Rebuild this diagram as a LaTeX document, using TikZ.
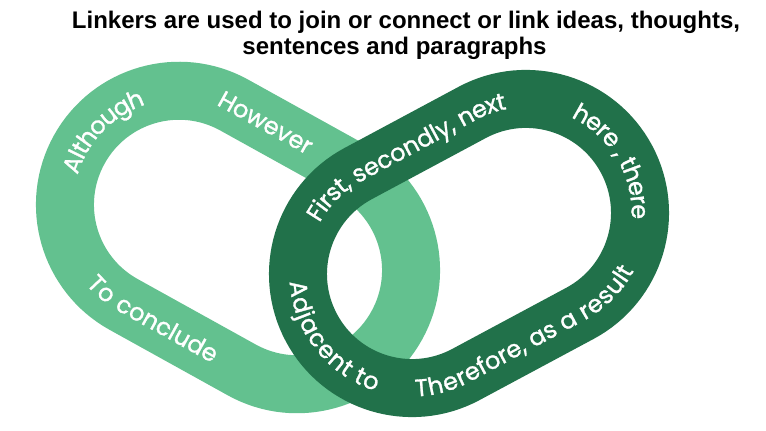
\documentclass[tikz,border=0pt]{standalone}
\usepackage{fontspec}
\setmainfont{Liberation Sans}
\newfontfamily\linkfont[FakeBold=1.2]{Poppins}
\usetikzlibrary{decorations.text}

\definecolor{lightlink}{RGB}{99,193,143}
\definecolor{darklink}{RGB}{33,113,74}

\tikzset{
  heading/.style={font=\bfseries\fontsize{24}{26}\selectfont, anchor=base, inner sep=0pt},
  link/.style={line width=58pt},
  linklabel/.style={decorate, decoration={text along path, text align=center, raise=-8.4pt,
    text={|\color{white}\linkfont\fontsize{24}{24}\selectfont|#1}}}
}

\begin{document}
\begin{tikzpicture}[x=1pt,y=1pt]
  \useasboundingbox (0,0) rectangle (766,431);
  % title
  \node[heading] (title) at (406,402.7) {Linkers are used to join or connect or link ideas, thoughts,};
  \node[heading] (subtitle) at (394.5,376.5) {sentences and paragraphs};

  % light link (behind)
  \begin{scope}[shift={(238,193.5)}, rotate=-29]
    \draw[link, lightlink] (-67.5,-114) -- (67.5,-114) arc (-90:90:114) -- (-67.5,114) arc (90:270:114) -- cycle;
    \path[linklabel=Although] ([shift={(215:114)}]-67.5,0) arc (215:115:114);
    \path[linklabel=However] (-100,114) -- (37,114);
    \path[linklabel={To conclude}] ([shift={(225:114)}]-67.5,0) arc (225:270:114) -- (87,-114);
  \end{scope}

  % dark link (front)
  \begin{scope}[shift={(469,187.5)}, rotate=28.2]
    \draw[link, darklink] (-64.7,-114) -- (64.7,-114) arc (-90:90:114) -- (-64.7,114) arc (90:270:114) -- cycle;
    \path[linklabel={First, secondly, next}] ([shift={(135:114)}]-64.7,0) arc (135:90:114) -- (64.7,114) arc (90:60:114);
    \path[linklabel={here , there}] ([shift={(50:114)}]64.7,0) arc (50:-45:114);
    \path[linklabel={Therefore, as a result}] ([shift={(237:114)}]-64.7,0) arc (237:270:114) -- (64.7,-114) arc (-90:-50:114);
    \path[linklabel={Adjacent to}] ([shift={(145:114)}]-64.7,0) arc (145:235:114);
  \end{scope}
\end{tikzpicture}
\end{document}
